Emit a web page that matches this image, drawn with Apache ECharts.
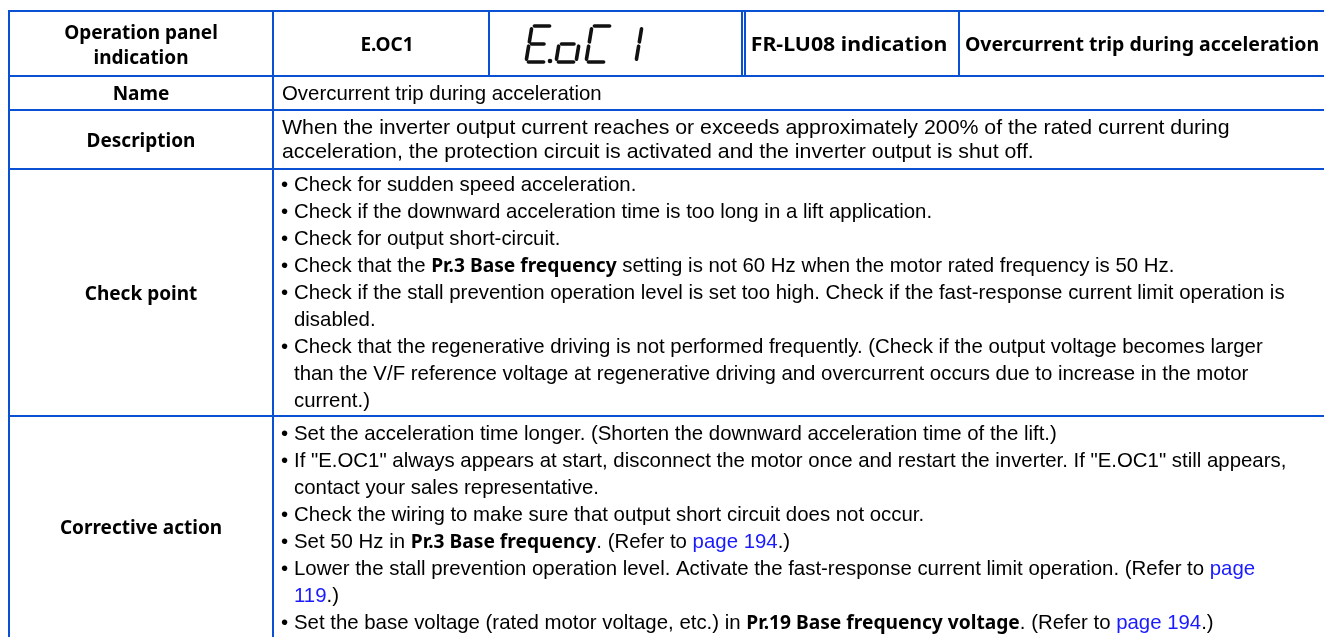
<!DOCTYPE html>
<html>
<head>
<meta charset="utf-8">
<script src="https://cdn.jsdelivr.net/npm/echarts@6/dist/echarts.min.js"></script>
<style>
html,body{margin:0;padding:0;background:#fff;}
#chart{width:1324px;height:637px;}
</style>
</head>
<body>
<div id="chart"></div>
<script>
// ---- content ----
const rowLabels = ['Operation panel\nindication', 'Name', 'Description', 'Check point', 'Corrective action'];
const headerCells = ['E.OC1', 'FR-LU08 indication', 'Overcurrent trip during acceleration'];
const segmentChars = ['E', 'o', 'C', '1'];
const nameLines = ['Overcurrent trip during acceleration'];
const descriptionLines = [
  'When the inverter output current reaches or exceeds approximately 200% of the rated current during',
  'acceleration, the protection circuit is activated and the inverter output is shut off.'
];
// '• ' prefix marks a bullet line; {b|..} bold, {a|..} link
const checkPointLines = [
  '• Check for sudden speed acceleration.',
  '• Check if the downward acceleration time is too long in a lift application.',
  '• Check for output short-circuit.',
  '• Check that the {b|Pr.3 Base frequency} setting is not 60 Hz when the motor rated frequency is 50 Hz.',
  '• Check if the stall prevention operation level is set too high. Check if the fast-response current limit operation is',
  'disabled.',
  '• Check that the regenerative driving is not performed frequently. (Check if the output voltage becomes larger',
  'than the V/F reference voltage at regenerative driving and overcurrent occurs due to increase in the motor',
  'current.)'
];
const correctiveLines = [
  '• Set the acceleration time longer. (Shorten the downward acceleration time of the lift.)',
  '• If "E.OC1" always appears at start, disconnect the motor once and restart the inverter. If "E.OC1" still appears,',
  'contact your sales representative.',
  '• Check the wiring to make sure that output short circuit does not occur.',
  '• Set 50 Hz in {b|Pr.3 Base frequency}. (Refer to {a|page 194}.)',
  '• Lower the stall prevention operation level. Activate the fast-response current limit operation. (Refer to {a|page}',
  '{a|119}.)',
  '• Set the base voltage (rated motor voltage, etc.) in {b|Pr.19 Base frequency voltage}. (Refer to {a|page 194}.)'
];

// ---- layout ----
const LINE = '#0a50d2';
const colX = [9, 273, 489, 742, 745, 959];
const rowY = [11, 76, 110, 169, 416, 700];
const RIGHT = 1330;
const HEAD_FONT = '"Noto Sans", sans-serif';
const BODY_FONT = '"Liberation Sans", Arial, sans-serif';
const BODY_SIZE = 20.4;
const HEAD_SIZE = 19;
function richFor(size) {
  return {
    b: {fontFamily: HEAD_FONT, fontWeight: 'bold', fontSize: 19.2, fill: '#000'},
    a: {fontFamily: BODY_FONT, fontSize: size, fill: '#1a1aff'}
  };
}

const g = [];
function hline(y, x1, x2) {
  g.push({type: 'line', shape: {x1: x1, y1: y, x2: x2, y2: y}, style: {stroke: LINE, lineWidth: 2}, silent: true});
}
function vline(x, y1, y2) {
  g.push({type: 'line', shape: {x1: x, y1: y1, x2: x, y2: y2}, style: {stroke: LINE, lineWidth: 2}, silent: true});
}
function headText(txt, cx, cy, sx) {
  g.push({type: 'text', x: cx, y: cy + 2, scaleX: sx || 1, style: {text: txt, fontFamily: HEAD_FONT, fontWeight: 'bold', fontSize: HEAD_SIZE,
    fill: '#000', align: 'center', verticalAlign: 'middle', lineHeight: 25}});
}
function bodyLines(lines, y0, step, size, sx) {
  const hasBullets = lines.some(function (l) { return l.indexOf('• ') === 0; });
  lines.forEach(function (ln, i) {
    const y = y0 + i * step + 1;
    let txt = ln;
    let x = hasBullets ? 294 : 282;
    if (ln.indexOf('• ') === 0) {
      g.push({type: 'text', x: 281, y: y, style: {text: '•', fontFamily: BODY_FONT, fontSize: size, fill: '#000', verticalAlign: 'middle'}});
      txt = ln.slice(2);
    }
    g.push({type: 'text', x: x, y: y, scaleX: sx || 1,
      style: {text: txt, rich: richFor(size), fontFamily: BODY_FONT, fontSize: size, fill: '#000', verticalAlign: 'middle'}});
  });
}

// grid lines
rowY.slice(0, 5).forEach(function (y) { hline(y, colX[0] - 1, RIGHT); });
vline(colX[0], rowY[0], 640);
vline(colX[1], rowY[0], 640);
[colX[2], colX[3], colX[4], colX[5]].forEach(function (x) { vline(x, rowY[0], rowY[1]); });

// header row
headText(rowLabels[0], (colX[0] + colX[1]) / 2, 44);
headText(headerCells[0], (colX[1] + colX[2]) / 2 + 6, 44);
headText(headerCells[1], 849, 44, 1.12);
headText(headerCells[2], 1142, 44, 1.026);

// left labels
headText(rowLabels[1], 141, (rowY[1] + rowY[2]) / 2);
headText(rowLabels[2], 141, (rowY[2] + rowY[3]) / 2);
headText(rowLabels[3], 141, (rowY[3] + rowY[4]) / 2);
headText(rowLabels[4], 141, 527);

bodyLines(nameLines, 93, 27, BODY_SIZE);
bodyLines(descriptionLines, 127, 24, BODY_SIZE, 1.045);
bodyLines(checkPointLines, 184, 27.1, BODY_SIZE);
bodyLines(correctiveLines, 433, 27.1, BODY_SIZE);

// seven segment indication
const SEG = {
  a: [[0.12, 0], [0.88, 0]], b: [[1, 0.08], [1, 0.44]], c: [[1, 0.56], [1, 0.92]],
  d: [[0.12, 1], [0.88, 1]], e: [[0, 0.56], [0, 0.92]], f: [[0, 0.08], [0, 0.44]], g: [[0.12, 0.5], [0.75, 0.5]]
};
const GLYPH = {E: 'adefg', o: 'cdeg', C: 'adef', '1': 'bc', ' ': ''};
const segW = 20, segH = 36, slant = 6, segTop = 26, pitch = 30;
segmentChars.forEach(function (ch, i) {
  const ox = 526 + i * pitch;
  GLYPH[ch].split('').forEach(function (s) {
    const p = SEG[s];
    const pt = function (q) { return [ox + q[0] * segW + (1 - q[1]) * slant, segTop + q[1] * segH]; };
    const A = pt(p[0]), B = pt(p[1]);
    g.push({type: 'line', shape: {x1: A[0], y1: A[1], x2: B[0], y2: B[1]},
      style: {stroke: '#111', lineWidth: 3.6, lineCap: 'round'}, silent: true});
  });
  if (ch === 'E') {
    g.push({type: 'circle', shape: {cx: ox + segW + 4, cy: segTop + segH - 1, r: 2.3}, style: {fill: '#111'}, silent: true});
  }
});

const chart = echarts.init(document.getElementById('chart'), null, {renderer: 'canvas'});
chart.setOption({animation: false, graphic: {elements: g}});
</script>
</body>
</html>
